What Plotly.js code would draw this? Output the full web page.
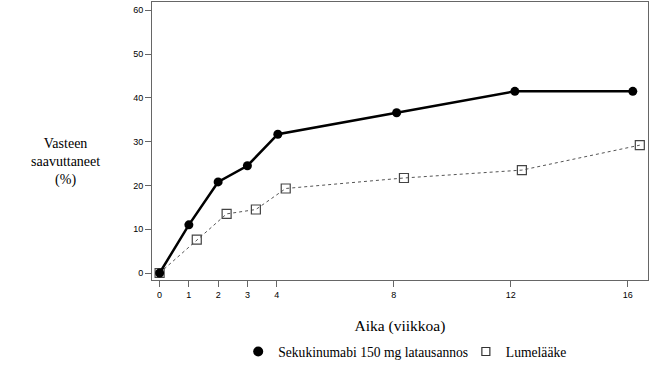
<!DOCTYPE html>
<html>
<head>
<meta charset="utf-8">
<script src="https://cdn.plot.ly/plotly-3.0.1.min.js"></script>
<style>html,body{margin:0;padding:0;background:#fff;}#chart{width:658px;height:369px;}</style>
</head>
<body>
<div id="chart"></div>
<script>
// Weeks (as plotted, slightly staggered in the original)
const weeksSecukinumab = [0, 1, 2, 3, 4.04, 8.1, 12.14, 16.17];
const valuesSecukinumab = [0, 11.0, 20.8, 24.5, 31.7, 36.6, 41.5, 41.5];
const weeksPlacebo = [0, 1.27, 2.29, 3.29, 4.31, 8.35, 12.38, 16.41];
const valuesPlacebo = [0, 7.6, 13.5, 14.5, 19.3, 21.7, 23.5, 29.2];
const xTicks = [0, 1, 2, 3, 4, 8, 12, 16];
const yTicks = [0, 10, 20, 30, 40, 50, 60];
const nameSecukinumab = 'Sekukinumabi 150 mg latausannos';
const namePlacebo = 'Lumelääke';

const serif = 'Liberation Serif';

const traces = [
  {x: weeksPlacebo, y: valuesPlacebo, mode: 'lines+markers', showlegend: false,
   line: {color: '#555', width: 1, dash: 'dot'},
   marker: {symbol: 'square-open', size: 9, color: '#444', line: {width: 1.2, color: '#444'}}},
  {x: weeksSecukinumab, y: valuesSecukinumab, mode: 'lines+markers', showlegend: false,
   line: {color: '#000', width: 2.5},
   marker: {symbol: 'circle', size: 9, color: '#000'}},
  {x: [null], y: [null], mode: 'markers', name: nameSecukinumab, legend: 'legend',
   marker: {symbol: 'circle', size: 10, color: '#000'}},
  {x: [null], y: [null], mode: 'markers', name: namePlacebo, legend: 'legend2',
   marker: {symbol: 'square-open', size: 8, color: '#333', line: {width: 1.2, color: '#333'}}}
];

const legendCommon = {orientation: 'h', xref: 'container', yref: 'container', y: 0.005,
  xanchor: 'left', yanchor: 'bottom', bgcolor: 'rgba(0,0,0,0)',
  font: {family: serif, size: 13.6, color: '#000'}, itemwidth: 30};

const layout = {
  width: 658, height: 369,
  margin: {l: 152, r: 10, t: 2, b: 89},
  paper_bgcolor: '#fff', plot_bgcolor: '#fff',
  showlegend: true,
  legend: Object.assign({}, legendCommon, {x: 0.362}),
  legend2: Object.assign({}, legendCommon, {x: 0.708}),
  xaxis: {range: [-0.26, 16.69], tickvals: xTicks, ticktext: xTicks.map(String),
    showgrid: false, zeroline: false, showline: true, mirror: true, linecolor: '#666', linewidth: 1,
    ticks: 'outside', ticklen: 6, tickcolor: '#666',
    tickfont: {family: 'Liberation Sans', size: 9, color: '#000'},
    title: {text: 'Aika (viikkoa)', font: {family: serif, size: 15.5, color: '#000'}, standoff: 21}},
  yaxis: {range: [-1.6, 61.9], tickvals: yTicks, ticktext: yTicks.map(String),
    showgrid: false, zeroline: false, showline: true, mirror: true, linecolor: '#666', linewidth: 1,
    ticks: 'outside', ticklen: 6, tickcolor: '#666',
    tickfont: {family: 'Liberation Sans', size: 9, color: '#000'}},
  annotations: [
    {text: 'Vasteen<br>saavuttaneet<br>(%)', xref: 'paper', yref: 'paper', x: -0.175, y: 0.425,
     xanchor: 'center', yanchor: 'middle', showarrow: false, align: 'center',
     font: {family: serif, size: 14, color: '#000'}}
  ]
};

Plotly.newPlot('chart', traces, layout, {displayModeBar: false, staticPlot: true});
</script>
</body>
</html>
